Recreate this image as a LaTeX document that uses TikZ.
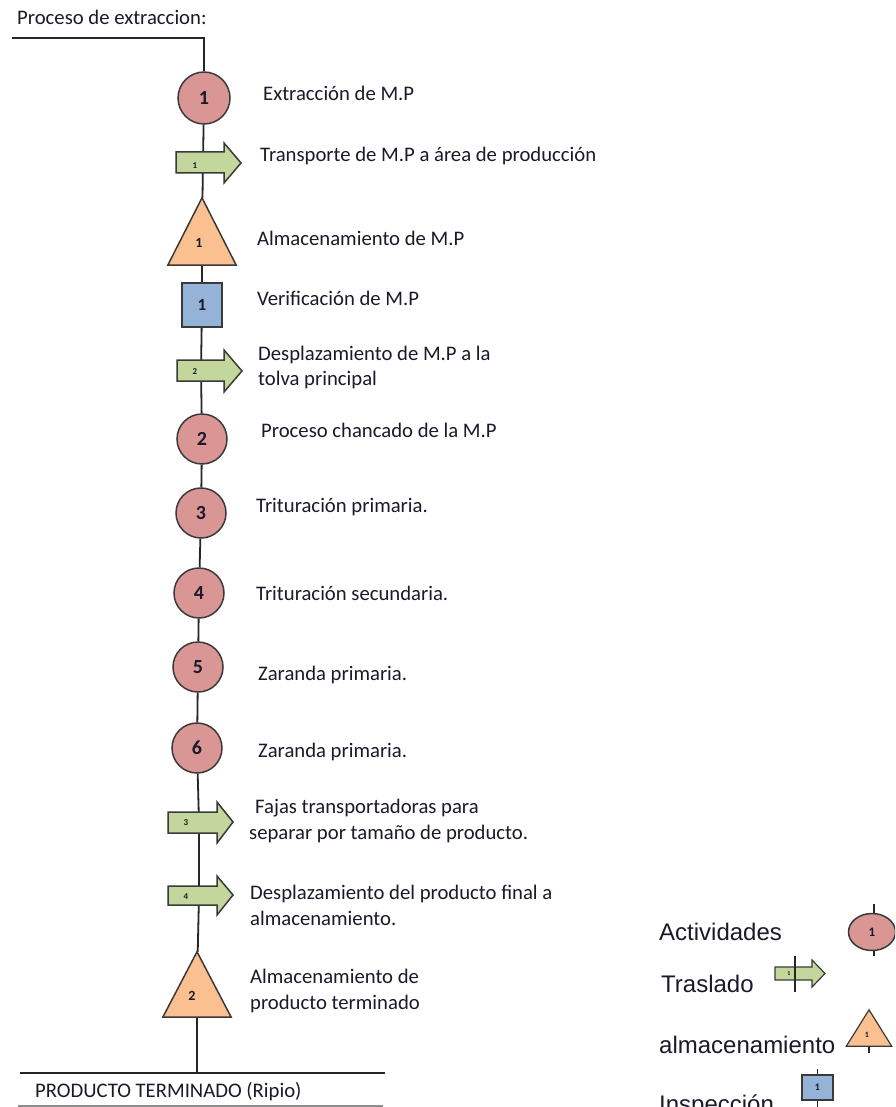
\documentclass[tikz,border=0pt]{standalone}
\usepackage{fontspec}
\setmainfont{Carlito}
\newfontfamily\arialf{Liberation Sans}
\usetikzlibrary{calc,shapes.geometric}
\definecolor{circfill}{HTML}{D99694}
\definecolor{arrfill}{HTML}{C3D69B}
\definecolor{trifill}{HTML}{FAC090}
\definecolor{sqfill}{HTML}{95B3D7}
\definecolor{outl}{HTML}{3A3A3A}
\definecolor{txtcol}{HTML}{1A1A2A}
\tikzset{
  lbl/.style={anchor=base west, inner sep=0pt, text=txtcol, font=\fontsize{20.7}{24}\selectfont},
  leglbl/.style={anchor=base west, inner sep=0pt, text=txtcol, font=\arialf\fontsize{24}{28}\selectfont},
  opcirc/.style={circle, draw=outl, line width=1.5pt, fill=circfill, minimum size=50pt, inner sep=0pt, text=txtcol, font=\fontsize{20}{24}\selectfont\bfseries},
  sqbox/.style={rectangle, draw=outl, line width=1.5pt, fill=sqfill, inner sep=0pt, text=txtcol, font=\fontsize{17}{20}\selectfont\bfseries},
  anch/.style={rectangle, inner sep=0pt, minimum width=0pt},
  trianch/.style={rectangle, inner sep=0pt},
  arrsty/.style={draw=outl, line width=1.5pt, fill=arrfill, line join=miter},
  tristy/.style={draw=outl, line width=1.5pt, fill=trifill, line join=miter},
  smallnum/.style={inner sep=0pt, text=txtcol, font=\fontsize{9}{10}\selectfont\bfseries},
  trinum/.style={inner sep=0pt, text=txtcol, font=\fontsize{14}{16}\selectfont\bfseries},
  conn/.style={draw=black!85, line width=1.8pt},
}
\begin{document}
\begin{tikzpicture}[x=1pt,y=-1pt]
\clip (0,0) rectangle (895,1107);
\fill[white] (0,0) rectangle (895,1107);

% ---------- main flow nodes ----------
\node[lbl] (title) at (17,25) {Proceso de extraccion:};
\coordinate (start) at (12,38);
\coordinate (corner) at (204,38);

\node[opcirc, minimum size=52pt] (c1) at (204,98) {1};
\node[anch, minimum height=21pt] (a1) at (203,162.5) {};
\node[trianch, minimum width=68pt, minimum height=67pt] (t1) at (202,231.5) {};
\node[sqbox, minimum width=40pt, minimum height=44pt] (s1) at (202,305) {1};
\node[anch, minimum height=21pt] (a2) at (201,370.5) {};
\node[opcirc] (c2) at (202,439) {2};
\node[opcirc] (c3) at (201,513) {3};
\node[opcirc] (c4) at (199,593) {4};
\node[opcirc] (c5) at (198,667) {5};
\node[opcirc] (c6) at (197,748) {6};
\node[anch, minimum height=21pt] (a3) at (199,822.5) {};
\node[anch, minimum height=19pt] (a4) at (199,895.5) {};
\node[trianch, minimum width=68pt, minimum height=65pt] (t2) at (197,984.5) {};
\coordinate (bot) at (197,1073);
\coordinate (bl) at (20,1073);
\coordinate (br) at (385,1073);

% ---------- connectors ----------
\draw[conn] (start) -- (corner) -- (c1);
\draw[conn] (c1) -- (a1);
\draw[conn] (a1) -- (t1);
\draw[conn] (t1) -- (s1);
\draw[conn] (s1) -- (a2);
\draw[conn] (a2) -- (c2);
\draw[conn] (c2) -- (c3);
\draw[conn] (c3) -- (c4);
\draw[conn] (c4) -- (c5);
\draw[conn] (c5) -- (c6);
\draw[conn] (c6) -- (a3);
\draw[conn] (a3) -- (a4);
\draw[conn] (a4) -- (t2);
\draw[conn] (t2) -- (bot);
\draw[conn] (bl) -- (br);
\draw[draw=black!45, line width=1.2pt] (18,1106) -- (383,1106);

% ---------- arrows (traslados) ----------
\filldraw[arrsty] (176,152) -- (224,152) -- (224,143) -- (241,163) -- (224,183) -- (224,173) -- (176,173) -- cycle;
\node[smallnum] at (195,166) {1};
\filldraw[arrsty] (177,360) -- (224,360) -- (224,350) -- (242,371) -- (224,392) -- (224,381) -- (177,381) -- cycle;
\node[smallnum] at (195,372) {2};
\filldraw[arrsty] (168,812) -- (217,812) -- (217,802) -- (233,822) -- (217,843) -- (217,833) -- (168,833) -- cycle;
\node[smallnum] at (186,823) {3};
\filldraw[arrsty] (168,886) -- (217,886) -- (217,876) -- (233,895) -- (217,915) -- (217,905) -- (168,905) -- cycle;
\node[smallnum] at (186,897) {4};

% ---------- triangles (almacenamiento) ----------
\filldraw[tristy] (t1.north) -- (t1.south east) -- (t1.south west) -- cycle;
\node[trinum] at (199,243) {1};
\filldraw[tristy] (t2.north) -- (t2.south east) -- (t2.south west) -- cycle;
\node[trinum] at (192,996) {2};

% ---------- labels ----------
\node[lbl] at (263,101) {Extracción de M.P};
\node[lbl] at (260,162) {Transporte de M.P a área de producción};
\node[lbl] at (257,245) {Almacenamiento de M.P};
\node[lbl] at (257,305) {Verificación de M.P};
\node[lbl] at (258,360) {Desplazamiento de M.P a la};
\node[lbl] at (258,385) {tolva principal};
\node[lbl] at (261,437) {Proceso chancado de la M.P};
\node[lbl] at (256,512) {Trituración primaria.};
\node[lbl] at (256,600) {Trituración secundaria.};
\node[lbl] at (258,680) {Zaranda primaria.};
\node[lbl] at (258,757) {Zaranda primaria.};
\node[lbl] at (255,813) {Fajas transportadoras para};
\node[lbl] at (249,839) {separar por tamaño de producto.};
\node[lbl] at (250,899) {Desplazamiento del producto final a};
\node[lbl] at (250,925) {almacenamiento.};
\node[lbl] at (250,983) {Almacenamiento de};
\node[lbl] at (250,1009) {producto terminado};
\node[lbl] at (35,1097) {PRODUCTO TERMINADO (Ripio)};

% ---------- legend ----------
\node[leglbl] at (659,940) {Actividades};
\node[leglbl] at (661,992) {Traslado};
\node[leglbl] at (659,1053) {almacenamiento};
\node[leglbl] at (659,1112) {Inspección};

\node[ellipse, draw=outl, line width=1.5pt, fill=circfill, minimum width=47pt, minimum height=37pt, inner sep=0pt, text=txtcol, font=\fontsize{13}{15}\selectfont\bfseries] (lc) at (872,932) {1};
\coordinate (lctop) at (874,904);
\coordinate (lcbot) at (874,956);
\draw[conn, line width=1.2pt] (lc.north -| lctop) -- (lctop);
\draw[conn, line width=1.2pt] (lc.south -| lcbot) -- (lcbot);

\node[anch, minimum height=13pt] (la) at (795,973.5) {};
\filldraw[arrsty, line width=1.2pt] (775,967) -- (812,967) -- (812,960) -- (825,973.5) -- (812,987) -- (812,980) -- (775,980) -- cycle;
\node[inner sep=0pt, text=txtcol, font=\fontsize{6}{7}\selectfont\bfseries] at (789,974) {1};
\coordinate (latop) at (795,956);
\coordinate (labot) at (795,992);
\draw[conn, line width=1.2pt] (la.north) -- (latop);
\draw[conn, line width=1.2pt] (la.south) -- (labot);
\draw[conn, line width=1.2pt] (la.north) -- (la.south);

\node[trianch, minimum width=45pt, minimum height=36pt] (lt) at (869,1028) {};
\filldraw[tristy, line width=1.2pt] (lt.north) -- (lt.south east) -- (lt.south west) -- cycle;
\node[inner sep=0pt, text=txtcol, font=\fontsize{8}{9}\selectfont\bfseries] at (867,1035) {1};
\coordinate (ltbot) at (869,1053);
\draw[conn, line width=1.2pt] (lt.south) -- (ltbot);

\node[sqbox, line width=1.2pt, minimum width=31pt, minimum height=25pt, font=\fontsize{10}{12}\selectfont\bfseries] (ls) at (817.5,1087.5) {1};
\coordinate (lstop) at (817.5,1069);
\coordinate (lsbot) at (817.5,1107);
\draw[conn, line width=1.2pt] (ls.north) -- (lstop);
\draw[conn, line width=1.2pt] (ls.south) -- (lsbot);
\end{tikzpicture}
\end{document}
